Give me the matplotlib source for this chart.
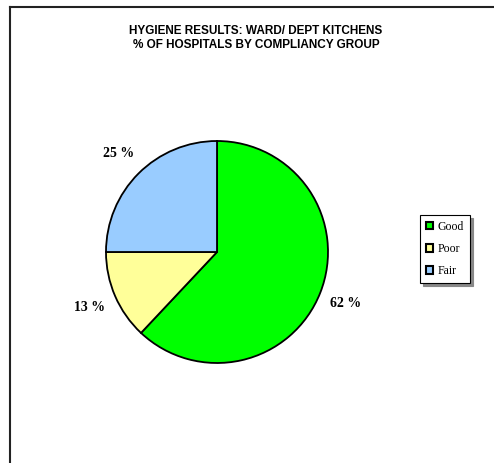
import matplotlib
matplotlib.use('Agg')
import matplotlib.pyplot as plt
from matplotlib.lines import Line2D
from matplotlib.patches import Patch

# Data
groups = ['Good', 'Poor', 'Fair']
shares = [62, 13, 25]
colors = ['#00FF00', '#FFFF99', '#99CCFF']
title = 'HYGIENE RESULTS: WARD/ DEPT KITCHENS\n% OF HOSPITALS BY COMPLIANCY GROUP'

W, H = 494, 463
fig = plt.figure(figsize=(W / 100, H / 100), dpi=100)
fig.patch.set_facecolor('white')

# Pie area: centre (217, 252) px, radius 111 px
cx, cy, r = 217, 252, 111
ax = fig.add_axes([(cx - r) / W, (H - cy - r) / H, 2 * r / W, 2 * r / H])

wedges, texts, autotexts = ax.pie(
    shares,
    colors=colors,
    startangle=90,
    counterclock=False,
    autopct=lambda p: f'{p:.0f} %',
    pctdistance=1.25,
    wedgeprops=dict(edgecolor='black', linewidth=1.3),
)
for t in autotexts:
    t.set_fontfamily('Liberation Serif')
    t.set_fontweight('bold')
    t.set_fontsize(10)
ax.set_xlim(-1, 1)
ax.set_ylim(-1, 1)
ax.set_aspect('auto')
ax.axis('off')

# Title
fig.text(256 / W, 1 - 38 / H, title, ha='center', va='center',
         fontfamily='Liberation Sans', fontweight='bold', fontsize=8.5,
         linespacing=1.3)

# Legend
handles = [Patch(facecolor=c, edgecolor='black', linewidth=1.5) for c in colors]
leg = fig.legend(
    handles, groups,
    loc='upper left',
    bbox_to_anchor=(420 / W, 1 - 215 / H),
    borderaxespad=0,
    frameon=True,
    fancybox=False,
    shadow={'color': '#888888', 'alpha': 1, 'ox': 2, 'oy': -2},
    prop={'family': 'Liberation Serif', 'size': 8.5},
    handlelength=0.6,
    handleheight=0.6,
    handletextpad=0.4,
    labelspacing=0.85,
    borderpad=0.5,
)
leg.get_frame().set_edgecolor('black')
leg.get_frame().set_linewidth(0.8)

# Outer frame (left and top edges)
x0 = 10 / W
y0 = 1 - 7 / H
fig.add_artist(Line2D([x0, x0], [0, y0], color='#222222', linewidth=1.5,
                      transform=fig.transFigure))
fig.add_artist(Line2D([x0, 1], [y0, y0], color='#222222', linewidth=1.5,
                      transform=fig.transFigure))

fig.savefig('out.png', dpi=100)
